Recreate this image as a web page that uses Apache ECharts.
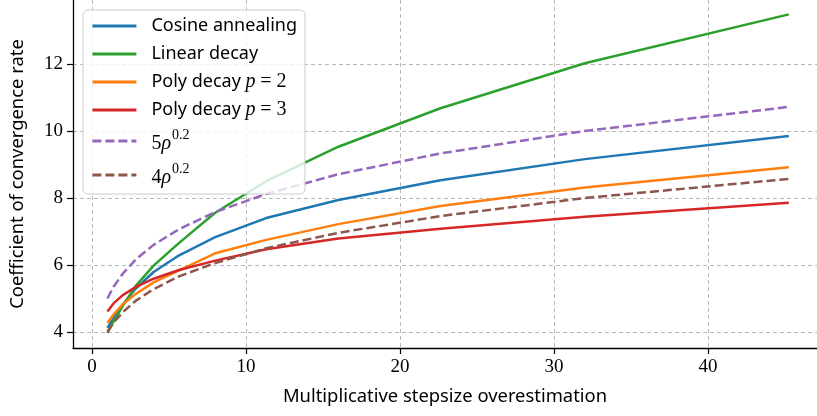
<!DOCTYPE html>
<html><head><meta charset="utf-8">
<script src="https://cdn.jsdelivr.net/npm/echarts@6/dist/echarts.min.js"></script>
<style>html,body{margin:0;padding:0;background:#fff}#c{width:817px;height:416px}</style>
</head><body><div id="c"></div>
<script>
const rho = [1, 1.414, 2, 2.828, 4, 5.657, 8, 11.31, 16, 22.63, 32, 45.25];
const cosine = [4.12, 4.43, 4.82, 5.29, 5.79, 6.29, 6.83, 7.40, 7.94, 8.53, 9.16, 9.85];
const linear = [3.97, 4.33, 4.78, 5.37, 5.98, 6.66, 7.56, 8.50, 9.53, 10.68, 12.02, 13.48];
const poly2 = [4.27, 4.53, 4.83, 5.13, 5.48, 5.84, 6.35, 6.75, 7.22, 7.76, 8.31, 8.92];
const poly3 = [4.61, 4.86, 5.10, 5.34, 5.59, 5.85, 6.13, 6.47, 6.79, 7.08, 7.44, 7.86];
const pow5 = [5.00, 5.36, 5.74, 6.16, 6.60, 7.07, 7.58, 8.12, 8.71, 9.33, 10.00, 10.72];
const pow4 = [4.00, 4.29, 4.59, 4.93, 5.28, 5.66, 6.06, 6.50, 6.96, 7.46, 8.00, 8.57];
const xTicks = [0, 10, 20, 30, 40];
const yTicks = [4, 6, 8, 10, 12];
const seriesNames = ['Cosine annealing', 'Linear decay', 'Poly decay p=2', 'Poly decay p=3', '5rho^0.2', '4rho^0.2'];
const seriesData = [cosine, linear, poly2, poly3, pow5, pow4];
const colors = ['#1f77b4', '#2ca02c', '#ff7f0e', '#d62728', '#9467bd', '#8c564b'];
const dashed = [false, false, false, false, true, true];

const legendRich = {
  'Cosine annealing': 'Cosine annealing',
  'Linear decay': 'Linear decay',
  'Poly decay p=2': 'Poly decay {it|p} {sr|= 2}',
  'Poly decay p=3': 'Poly decay {it|p} {sr|= 3}',
  '5rho^0.2': '{sr2|5}{it2|ρ}{sup|0.2}',
  '4rho^0.2': '{sr2|4}{it2|ρ}{sup|0.2}'
};

const chart = echarts.init(document.getElementById('c'), null, {renderer: 'canvas'});
const serif = 'Liberation Serif';
const sans = 'Noto Sans';
chart.setOption({
  animation: false,
  backgroundColor: '#fff',
  grid: {left: 73, right: 0, top: 0, bottom: 68, containLabel: false},
  xAxis: {
    type: 'value', min: -1.234, max: 47.08,
    name: 'Multiplicative stepsize overestimation',
    nameLocation: 'middle', nameGap: 40,
    nameTextStyle: {fontFamily: sans, fontSize: 18.4, color: '#000'},
    axisLine: {show: true, onZero: false, lineStyle: {color: '#000', width: 1.3}},
    axisTick: {show: true, length: 6, customValues: xTicks, lineStyle: {color: '#000', width: 1.2}},
    axisLabel: {customValues: xTicks, fontFamily: serif, fontSize: 19, color: '#000', margin: 10},
    splitLine: {show: true, lineStyle: {color: '#b0b0b0', type: [4, 3], width: 0.9}}
  },
  yAxis: {
    type: 'value', min: 3.522, max: 13.91,
    name: 'Coefficient of convergence rate',
    nameLocation: 'middle', nameGap: 46,
    nameTextStyle: {fontFamily: sans, fontSize: 18.4, color: '#000'},
    axisLine: {show: true, onZero: false, lineStyle: {color: '#000', width: 1.3}},
    axisTick: {show: true, length: 6, customValues: yTicks, lineStyle: {color: '#000', width: 1.2}},
    axisLabel: {customValues: yTicks, fontFamily: serif, fontSize: 19, color: '#000', margin: 10},
    splitLine: {show: true, lineStyle: {color: '#b0b0b0', type: [4, 3], width: 0.9}}
  },
  legend: {
    orient: 'vertical', left: 83, top: 10,
    padding: [6, 8, 6, 8],
    itemWidth: 44, itemHeight: 14, itemGap: 8,
    backgroundColor: 'rgba(255,255,255,0.8)',
    borderColor: '#cccccc', borderWidth: 1, borderRadius: 5,
    itemStyle: {opacity: 0},
    lineStyle: {width: 2.8},
    data: seriesNames,
    formatter: n => legendRich[n],
    textStyle: {
      fontFamily: sans, fontSize: 18, color: '#000', lineHeight: 20, padding: [0, 0, 0, 10],
      rich: {
        it: {fontFamily: serif, fontStyle: 'italic', fontSize: 20, color: '#000', lineHeight: 20},
        sr: {fontFamily: serif, fontSize: 20, color: '#000', lineHeight: 20},
        it2: {fontFamily: serif, fontStyle: 'italic', fontSize: 20, color: '#000', lineHeight: 26, verticalAlign: 'bottom'},
        sr2: {fontFamily: serif, fontSize: 20, color: '#000', lineHeight: 26, verticalAlign: 'bottom'},
        sup: {fontFamily: serif, fontSize: 14, color: '#000', lineHeight: 17, verticalAlign: 'top', padding: [0, 0, 0, 1]}
      }
    }
  },
  series: seriesNames.map((n, i) => ({
    name: n, type: 'line', symbol: 'none', showSymbol: false,
    data: rho.map((x, j) => [x, seriesData[i][j]]),
    lineStyle: {color: colors[i], width: 2.5, type: dashed[i] ? [9, 4] : 'solid'},
    itemStyle: {color: colors[i]},
    z: 2 + i * 0.01
  }))
});
</script></body></html>
